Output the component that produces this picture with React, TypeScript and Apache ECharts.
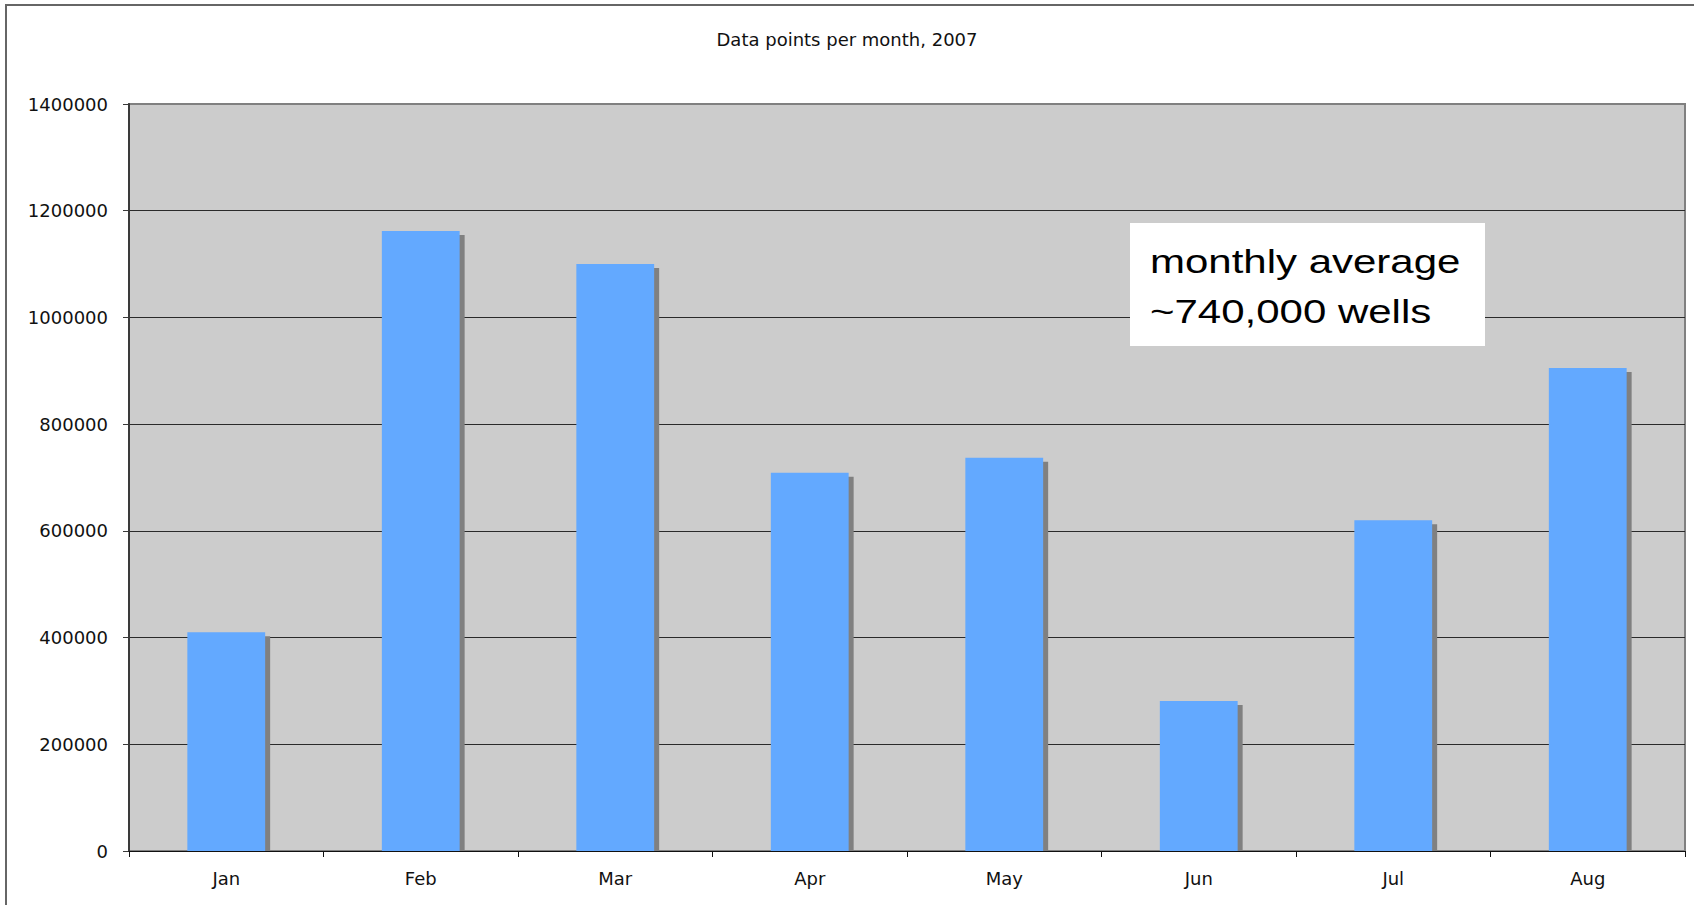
import React, { useEffect, useRef } from "react";
import * as echarts from "echarts";

const titleText = "Data points per month, 2007";
const months = ["Jan", "Feb", "Mar", "Apr", "May", "Jun", "Jul", "Aug"];
const dataPoints = [410000, 1162000, 1100000, 709000, 737000, 281000, 620000, 905000];
const yTicks = { min: 0, max: 1400000, interval: 200000 };
const noteLines = ["monthly average", "~740,000 wells"];

export default function App() {
  const ref = useRef<HTMLDivElement>(null);
  useEffect(() => {
    if (!ref.current) return;
    const chart = echarts.init(ref.current, null, { renderer: "svg" });
    const font = "'DejaVu Sans', Verdana, sans-serif";
    chart.setOption({
      animation: false,
      backgroundColor: "#ffffff",
      title: {
        text: titleText,
        left: "center",
        top: 25,
        textStyle: { fontFamily: font, fontSize: 18, fontWeight: "normal", color: "#111" },
      },
      grid: {
        left: 129,
        right: 9,
        top: 104,
        bottom: 54,
        show: true,
        backgroundColor: "#cccccc",
        borderColor: "#808080",
        borderWidth: 2,
      },
      xAxis: {
        type: "category",
        data: months,
        z: 5,
        axisLine: { show: true, lineStyle: { color: "#111", width: 1 } },
        axisTick: { show: true, length: 6, lineStyle: { color: "#111" } },
        axisLabel: { fontFamily: font, fontSize: 18, color: "#111", margin: 18 },
        splitLine: { show: false },
      },
      yAxis: {
        type: "value",
        min: yTicks.min,
        max: yTicks.max,
        interval: yTicks.interval,
        axisLine: { show: true, lineStyle: { color: "#3a3a3a", width: 2 } },
        axisTick: { show: true, length: 6, lineStyle: { color: "#3a3a3a" } },
        axisLabel: {
          fontFamily: font,
          fontSize: 18,
          color: "#111",
          margin: 21,
          formatter: (v: number) => String(v),
        },
        splitLine: { show: true, showMaxLine: false, lineStyle: { color: "#2a2a2a", width: 1 } },
      },
      series: [
        {
          type: "custom",
          data: dataPoints.map((v, i) => [i, v]),
          encode: { x: 0, y: 1 },
          renderItem: (params: any, api: any) => {
            const idx = api.value(0);
            const val = api.value(1);
            const top = api.coord([idx, val]);
            const base = api.coord([idx, 0]);
            const bw = api.size([1, 0])[0] * 0.4;
            const x = top[0] - bw / 2;
            const h = base[1] - top[1];
            return {
              type: "group",
              children: [
                {
                  type: "rect",
                  shape: { x: x + 5, y: top[1] + 4, width: bw, height: h - 4 },
                  style: { fill: "#808080" },
                },
                {
                  type: "rect",
                  shape: { x: x, y: top[1], width: bw, height: h },
                  style: { fill: "#63a9ff" },
                },
              ],
            };
          },
        },
      ],
      graphic: [
        {
          type: "rect",
          z: 100,
          shape: { x: 6, y: 5, width: 2000, height: 2000 },
          style: { fill: "none", stroke: "#666666", lineWidth: 2 },
          silent: true,
        },
        {
          type: "rect",
          z: 100,
          shape: { x: 1130, y: 223, width: 355, height: 123 },
          style: { fill: "#ffffff" },
        },
        {
          type: "text",
          z: 101,
          x: 1150,
          y: 237,
          scaleY: 0.8,
          style: {
            text: noteLines.join("\n"),
            fontFamily: "'Liberation Sans', Arial, sans-serif",
            fontSize: 42,
            lineHeight: 62,
            fill: "#000",
            verticalAlign: "top",
            align: "left",
          },
        },
      ],
    });
    return () => chart.dispose();
  }, []);
  return (
    <div
      ref={ref}
      style={{ position: "fixed", left: 0, top: 0, width: 1694, height: 905 }}
    />
  );
}
